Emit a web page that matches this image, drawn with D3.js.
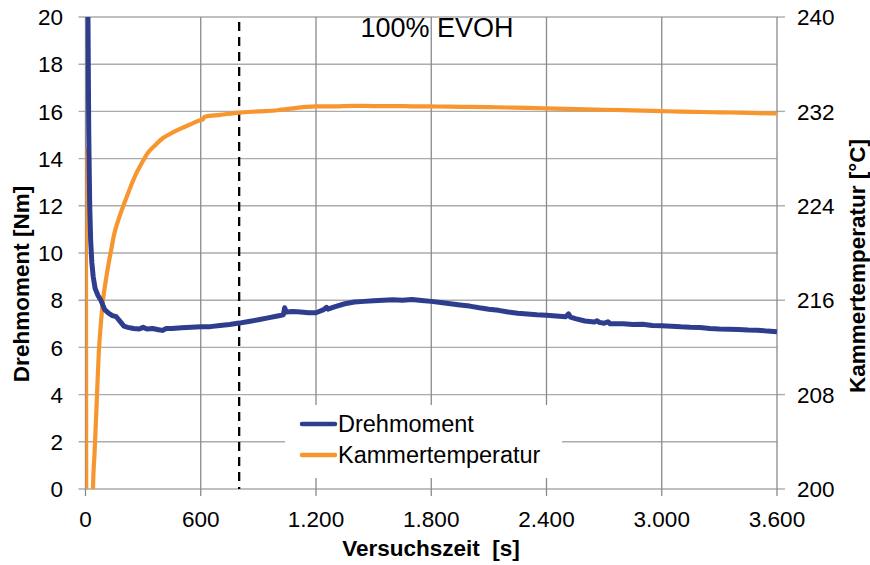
<!DOCTYPE html>
<html><head><meta charset="utf-8">
<script src="https://cdn.jsdelivr.net/npm/d3@7"></script>
<style>body{margin:0;background:#fff}svg{display:block;font-family:"Liberation Sans",Arial,sans-serif}</style>
</head><body><svg id="c" width="870" height="565"></svg>
<script>
const title = "100% EVOH";
const xTicks = [0, 600, 1200, 1800, 2400, 3000, 3600];
const xTickLabels = ["0", "600", "1.200", "1.800", "2.400", "3.000", "3.600"];
const yLeftTicks = [0, 2, 4, 6, 8, 10, 12, 14, 16, 18, 20];
const yRightTicks = [200, 208, 216, 224, 232, 240];
const markerTime = 800;

const torqueTime = [0,6,12,17,22,27,33,40,50,65,80,100,120,140,160,180,200,220,250,280,300,320,350,380,400,420,450,500,550,600,650,700,750,800,850,900,950,1000,1030,1037,1045,1080,1120,1160,1200,1240,1255,1262,1300,1350,1400,1450,1500,1550,1600,1650,1700,1750,1800,1850,1900,1950,2000,2050,2100,2150,2200,2250,2300,2350,2400,2450,2500,2515,2525,2550,2600,2650,2663,2675,2700,2720,2730,2800,2850,2900,2950,3000,3050,3100,3150,3200,3250,3300,3350,3400,3450,3500,3550,3600];
const torque = [45,30,21,15,12,10.5,9.6,9.0,8.5,8.2,8.0,7.6,7.45,7.35,7.3,7.1,6.9,6.85,6.8,6.78,6.85,6.78,6.8,6.75,6.72,6.8,6.8,6.83,6.85,6.87,6.88,6.93,6.97,7.03,7.1,7.17,7.25,7.33,7.38,7.68,7.5,7.52,7.5,7.47,7.47,7.6,7.7,7.62,7.73,7.85,7.92,7.95,7.98,8.0,8.02,8.0,8.03,7.99,7.95,7.9,7.85,7.8,7.75,7.68,7.62,7.57,7.5,7.45,7.42,7.38,7.36,7.33,7.3,7.42,7.28,7.22,7.12,7.08,7.13,7.06,7.02,7.09,7.0,7.0,6.97,6.98,6.93,6.92,6.9,6.87,6.85,6.84,6.8,6.78,6.77,6.76,6.74,6.73,6.69,6.66];

const tempTime = [0,2,4,20,35,39,47,56,69,82,91,105,117,133,148,175,204,237,260,289,325,367,400,430,470,518,560,596,610,620,700,800,900,1000,1100,1150,1200,1300,1400,1500,1600,1700,1800,1900,2000,2100,2200,2300,2400,2500,2600,2700,2800,2900,3000,3100,3200,3300,3400,3500,3600];
const temperature = [228.9,228.5,195,180,194,200,203,206.4,211.5,214.4,216.0,217.6,218.8,220.2,221.5,223.0,224.3,225.7,226.6,227.5,228.5,229.2,229.7,230.0,230.35,230.7,231.0,231.25,231.3,231.55,231.7,231.9,232.0,232.1,232.3,232.38,232.42,232.43,232.47,232.45,232.45,232.43,232.42,232.4,232.38,232.36,232.33,232.3,232.26,232.22,232.18,232.14,232.1,232.06,232.02,231.98,231.95,231.92,231.9,231.85,231.82];

const seriesNames = ["Drehmoment", "Kammertemperatur"];
const colors = ["#2e3d8e", "#f7962e"];

const svg = d3.select("#c");
const L = 85.5, R = 777, T = 17, B = 489;
const x = d3.scaleLinear().domain([0, 3600]).range([L, R]);
const yL = d3.scaleLinear().domain([0, 20]).range([B, T]);
const yR = d3.scaleLinear().domain([200, 240]).range([B, T]);

svg.append("defs").append("clipPath").attr("id", "clip")
  .append("rect").attr("x", L).attr("y", T).attr("width", R - L).attr("height", B - T);

svg.append("g").selectAll("line").data(yLeftTicks).join("line")
  .attr("x1", L - 7).attr("x2", R).attr("y1", d => yL(d)).attr("y2", d => yL(d))
  .attr("stroke", "#ababab").attr("stroke-width", 1.4);
svg.append("g").selectAll("line").data(yRightTicks).join("line")
  .attr("x1", R).attr("x2", R + 8).attr("y1", d => yR(d)).attr("y2", d => yR(d))
  .attr("stroke", "#ababab").attr("stroke-width", 1.4);
svg.append("g").selectAll("line").data(xTicks).join("line")
  .attr("x1", d => x(d)).attr("x2", d => x(d)).attr("y1", T).attr("y2", B + 7)
  .attr("stroke", "#8a8a8a").attr("stroke-width", 1.3);

const fs = 22.5;
svg.append("g").selectAll("text").data(yLeftTicks).join("text")
  .attr("x", 63).attr("y", d => yL(d)).attr("dy", "0.36em").attr("text-anchor", "end")
  .attr("font-size", fs).attr("fill", "#000").text(d => d);
svg.append("g").selectAll("text").data(yRightTicks).join("text")
  .attr("x", 797).attr("y", d => yR(d)).attr("dy", "0.36em").attr("text-anchor", "start")
  .attr("font-size", fs).attr("fill", "#000").text(d => d);
svg.append("g").selectAll("text").data(xTicks).join("text")
  .attr("x", d => x(d)).attr("y", 527).attr("text-anchor", "middle")
  .attr("font-size", fs).attr("fill", "#000").text((d, i) => xTickLabels[i]);

const tfs = 22.5;
svg.append("text").attr("transform", "translate(29,284) rotate(-90)").attr("text-anchor", "middle")
  .attr("font-size", tfs).attr("font-weight", "bold").text("Drehmoment [Nm]");
svg.append("text").attr("transform", "translate(865,266) rotate(-90)").attr("text-anchor", "middle")
  .attr("font-size", tfs).attr("font-weight", "bold").text("Kammertemperatur [°C]");
svg.append("text").attr("x", 431).attr("y", 556).attr("text-anchor", "middle")
  .attr("font-size", tfs).attr("font-weight", "bold").style("white-space", "pre").text("Versuchszeit  [s]");

svg.append("line").attr("x1", x(markerTime)).attr("x2", x(markerTime)).attr("y1", 22).attr("y2", B)
  .attr("stroke", "#000").attr("stroke-width", 2.3).attr("stroke-dasharray", "9,6");

const g = svg.append("g").attr("clip-path", "url(#clip)");
const torqueData = torqueTime.map((t, i) => [t, torque[i]]);
const tempData = tempTime.map((t, i) => [t, temperature[i]]);
g.append("path").datum(tempData)
  .attr("d", d3.line().curve(d3.curveMonotoneX).x(d => x(d[0])).y(d => yR(d[1])))
  .attr("fill", "none").attr("stroke", colors[1]).attr("stroke-width", 4.2).attr("stroke-linejoin", "round");
g.append("path").datum(torqueData)
  .attr("d", d3.line().x(d => x(d[0])).y(d => yL(d[1])))
  .attr("fill", "none").attr("stroke", colors[0]).attr("stroke-width", 5).attr("stroke-linejoin", "round");

svg.append("text").attr("x", 437).attr("y", 37).attr("text-anchor", "middle")
  .attr("font-size", 27).attr("fill", "#000").text(title);

const lg = svg.append("g");
lg.append("rect").attr("x", 285).attr("y", 405).attr("width", 277).attr("height", 73).attr("fill", "#fff");
seriesNames.forEach((n, i) => {
  const yy = 424 + i * 31;
  lg.append("line").attr("x1", 302).attr("x2", 335).attr("y1", yy).attr("y2", yy)
    .attr("stroke", colors[i]).attr("stroke-width", 4.5).attr("stroke-linecap", "round");
  lg.append("text").attr("x", 338).attr("y", yy).attr("dy", "0.36em").attr("font-size", 23.5).text(n);
});
</script></body></html>
